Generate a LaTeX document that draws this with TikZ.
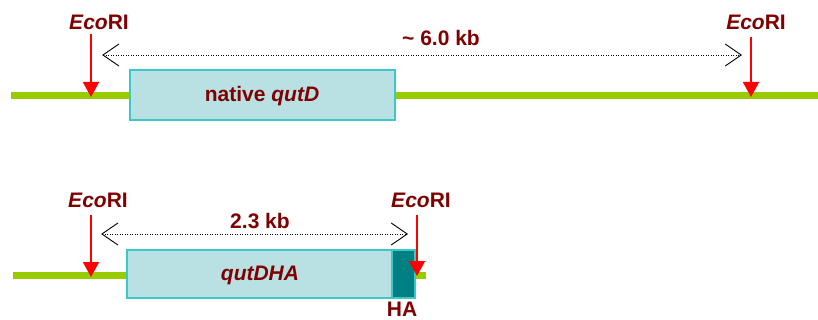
\documentclass[tikz,border=0pt]{standalone}
\usepackage{fontspec}
\setmainfont{Liberation Sans}
\usetikzlibrary{arrows.meta}
\definecolor{dred}{HTML}{800000}
\definecolor{dna}{HTML}{99CC00}
\definecolor{boxfill}{HTML}{B9E0E3}
\definecolor{boxline}{HTML}{3CC8C8}
\definecolor{hateal}{HTML}{008080}
\tikzset{
  lbl/.style={font=\fontsize{21}{24}\selectfont\bfseries, text=dred, inner sep=0pt},
  dnaline/.style={draw=dna, line width=7pt},
  genebox/.style={draw=boxline, fill=boxfill, line width=1.5pt, inner sep=0pt},
  cutarrow/.style={draw=red, line width=1.8pt, -{Triangle[length=15pt,width=16pt]}},
  sizearrow/.style={draw=black, line width=0.9pt, dash pattern=on 1pt off 1.5pt, {Straight Barb[length=16pt,width=22pt,line width=0.9pt,sep]}-{Straight Barb[length=16pt,width=22pt,line width=0.9pt]}}
}
\begin{document}
\begin{tikzpicture}[x=1pt,y=-1pt]
\useasboundingbox (0,0) rectangle (818,320);
% ---- top construct ----
\coordinate (tl) at (11,95.5);
\coordinate (tr) at (818,95.5);
\draw[dnaline] (tl) -- (tr);
\node[genebox, minimum width=265pt, minimum height=50pt, anchor=north west] (native) at (129,69.5) {};
\node[lbl] (nativetxt) at (262,96) {native \textit{qutD}};
\node[lbl] (eco1) at (99,22) {\textit{Eco}RI};
\node[lbl] (eco2) at (756,22) {\textit{Eco}RI};
\coordinate (e1s) at (91,34);
\coordinate (e1t) at (91,97);
\coordinate (e2s) at (751,37);
\coordinate (e2t) at (751,97);
\draw[cutarrow] (e1s) -- (e1t);
\draw[cutarrow] (e2s) -- (e2t);
\coordinate (s1a) at (101,55);
\coordinate (s1b) at (742,55);
\draw[sizearrow] (s1a) -- (s1b);
\node[lbl] (kb6) at (441,38) {\textasciitilde\ 6.0 kb};
% ---- bottom construct ----
\coordinate (bl) at (13,275.5);
\coordinate (br) at (426,275.5);
\draw[dnaline] (bl) -- (br);
\node[genebox, minimum width=265pt, minimum height=48pt, anchor=north west] (qutdha) at (126,249) {};
\node[genebox, fill=hateal, minimum width=23pt, minimum height=48pt, anchor=north west] (habox) at (391,249) {};
\node[lbl, font=\fontsize{21}{24}\selectfont\bfseries\itshape] (qutdhatxt) at (260,275) {qutDHA};
\node[lbl] (hatxt) at (402,309.5) {HA};
\node[lbl] (eco3) at (98,200) {\textit{Eco}RI};
\node[lbl] (eco4) at (421,200) {\textit{Eco}RI};
\coordinate (e3s) at (91,215);
\coordinate (e3t) at (91,277);
\coordinate (e4s) at (417,215);
\coordinate (e4t) at (417,276);
\draw[cutarrow] (e3s) -- (e3t);
\draw[cutarrow] (e4s) -- (e4t);
\coordinate (s2a) at (100,234);
\coordinate (s2b) at (408,234);
\draw[sizearrow] (s2a) -- (s2b);
\node[lbl] (kb23) at (260,221) {2.3 kb};
\end{tikzpicture}
\end{document}
